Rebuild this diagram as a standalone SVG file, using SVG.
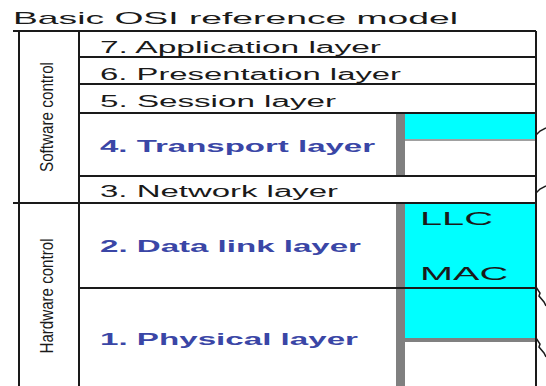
<svg xmlns="http://www.w3.org/2000/svg" width="546" height="386" viewBox="0 0 546 386">
<style>
  .ln{stroke:#1a1a1a;stroke-width:2;fill:none}
  .t{font-family:"Liberation Sans",Arial,sans-serif;font-size:16px;fill:#1a1a1a}
  .b{font-family:"Liberation Sans",Arial,sans-serif;font-size:16px;font-weight:bold;fill:#3a46a6}
  .side{font-family:"Liberation Sans",Arial,sans-serif;font-size:18px;fill:#1a1a1a}
  .cy{fill:#00ffff}
  .bar{fill:#808080}
  .sq{stroke:#1a1a1a;stroke-width:1.5;fill:none}
</style>
<rect width="546" height="386" fill="#ffffff"/>
<g id="title"><text class="t" x="13" y="24" font-size="17" style="font-size:17px" textLength="445" lengthAdjust="spacingAndGlyphs">Basic OSI reference model</text></g>
<g id="sublayer-boxes">
  <rect class="cy" x="405" y="113" width="130" height="26"/>
  <rect x="405" y="139" width="131" height="2" fill="#a0a0a0"/>
  <rect class="cy" x="405" y="203" width="130" height="135"/>
  <rect class="bar" x="396" y="338" width="140" height="4"/>
  <rect class="bar" x="396" y="113" width="9" height="63"/>
  <rect class="bar" x="396" y="203" width="9" height="183"/>
</g>
<g id="connectors">
  <path class="ln" d="M13,31H536M79,57H536M79,84H536M79,113H536M79,176H536M13,203H536M79,288H536"/>
  <path class="ln" d="M19,31V386M79,31V386M536,31V386"/>
  <path class="sq" d="M536,135L540,131L546,128M536,193L540,189L546,186"/>
  <path class="sq" d="M536,287L540,293L539,296L544,302L546,306M536,338L540,344L539,347L544,353L546,357"/>
</g>
<g id="software-control"><text class="side" text-anchor="middle" transform="translate(53,117) rotate(-90)" textLength="110" lengthAdjust="spacingAndGlyphs">Software control</text></g>
<g id="hardware-control"><text class="side" text-anchor="middle" transform="translate(53,296) rotate(-90)" textLength="115" lengthAdjust="spacingAndGlyphs">Hardware control</text></g>
<g id="layer7"><text class="t" x="100" y="53" textLength="281" lengthAdjust="spacingAndGlyphs">7. Application layer</text></g>
<g id="layer6"><text class="t" x="100" y="80" textLength="301" lengthAdjust="spacingAndGlyphs">6. Presentation layer</text></g>
<g id="layer5"><text class="t" x="100" y="107" textLength="236" lengthAdjust="spacingAndGlyphs">5. Session layer</text></g>
<g id="layer4"><text class="b" x="100" y="152" textLength="275" lengthAdjust="spacingAndGlyphs">4. Transport layer</text></g>
<g id="layer3"><text class="t" x="100" y="197" textLength="238" lengthAdjust="spacingAndGlyphs">3. Network layer</text></g>
<g id="layer2"><text class="b" x="100" y="252" textLength="261" lengthAdjust="spacingAndGlyphs">2. Data link layer</text></g>
<g id="layer1"><text class="b" x="100" y="345" textLength="258" lengthAdjust="spacingAndGlyphs">1. Physical layer</text></g>
<g id="llc"><text class="side" x="420" y="225" textLength="73" lengthAdjust="spacingAndGlyphs">LLC</text></g>
<g id="mac"><text class="side" x="420" y="280" textLength="88" lengthAdjust="spacingAndGlyphs">MAC</text></g>
</svg>
